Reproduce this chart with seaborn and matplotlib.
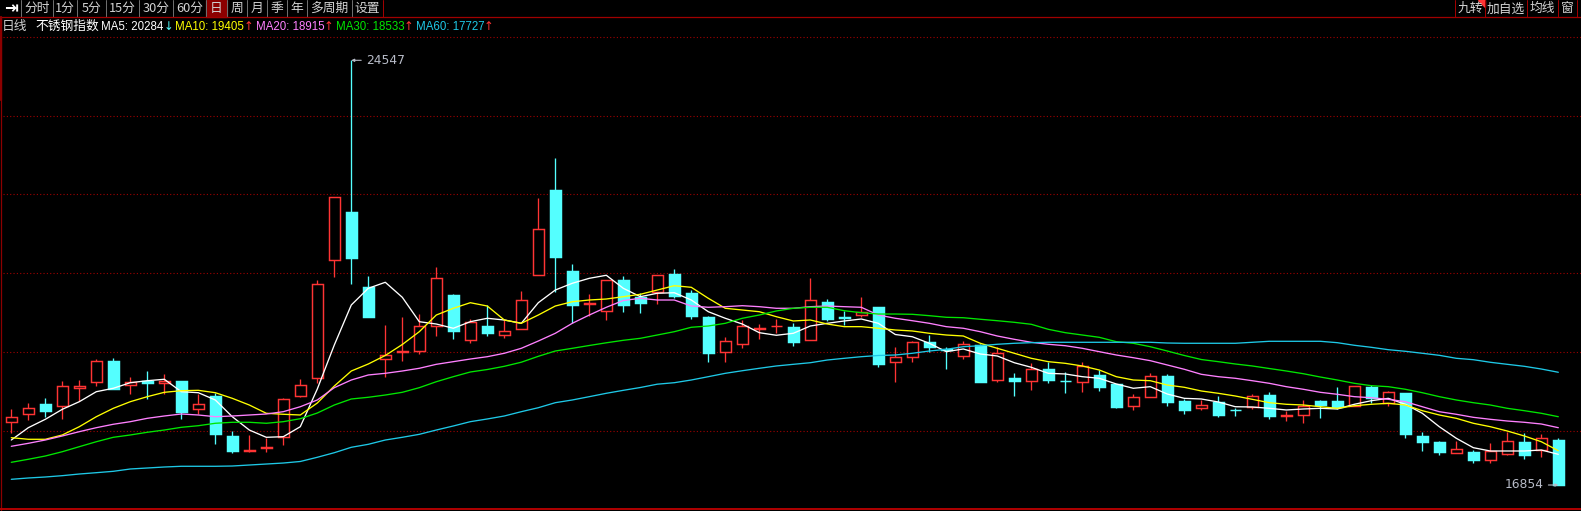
import matplotlib
matplotlib.use("Agg")
import numpy as np
import pandas as pd
import matplotlib.pyplot as plt
from matplotlib.patches import Rectangle, Polygon
import seaborn as sns

# daily candles of the stainless steel index
opens = [17990, 18135, 18321, 18290, 18617, 18725, 19100, 18671, 18743, 18707,
         18738, 18236, 18466, 17742, 17475, 17530, 17718, 18472, 18798, 20924,
         21799, 20441, 19142, 19269, 19276, 19740, 20296, 19486, 19734, 19566,
         19674, 20653, 22198, 20730, 20138, 20011, 20567, 20259, 20355, 20676,
         20332, 19897, 19258, 19403, 19685, 19729, 19711, 19475, 20169, 19897,
         19928, 20078, 19077, 19178, 19439, 19312, 19196, 19385, 18751, 18792,
         18732, 18950, 18738, 18714, 18841, 18684, 18290, 18443, 18823, 18370,
         18243, 18358, 18213, 18272, 18490, 18109, 18117, 18376, 18376, 18280,
         18629, 18339, 18520, 17742, 17633, 17439, 17452, 17312, 17421, 17633,
         17488, 17664]
highs = [18231, 18339, 18430, 18738, 18756, 19136, 19154, 18810, 18919, 18865,
         18738, 18497, 18515, 17827, 17754, 17700, 18424, 18769, 20567, 22065,
         24547, 20640, 19752, 19897, 19951, 20803, 20308, 19856, 20115, 19843,
         20368, 22053, 22777, 20857, 20314, 20562, 20640, 20327, 20658, 20767,
         20381, 19921, 19535, 19848, 19770, 19861, 19794, 20604, 20218, 20006,
         20259, 20078, 19354, 19457, 19571, 19354, 19457, 19403, 19354, 18877,
         19058, 19088, 18896, 19077, 18937, 18689, 18497, 18877, 18859, 18412,
         18388, 18466, 18254, 18508, 18539, 18200, 18394, 18394, 18635, 18642,
         18660, 18557, 18520, 17820, 17651, 17651, 17488, 17609, 17814, 17790,
         17772, 17700]
lows = [17790, 18031, 18091, 18055, 18376, 18653, 18598, 18508, 18417, 18497,
        18044, 18140, 17602, 17428, 17457, 17457, 17579, 18448, 18696, 20627,
        20500, 19903, 18816, 19106, 19221, 19558, 19504, 19432, 19558, 19522,
        19674, 20653, 20355, 19783, 19921, 19848, 19988, 19975, 20138, 20247,
        19861, 19088, 19088, 19341, 19504, 19613, 19377, 19475, 19825, 19752,
        19897, 18997, 18725, 19088, 19269, 18961, 19142, 18725, 18725, 18472,
        18580, 18707, 18526, 18544, 18551, 18254, 18218, 18443, 18290, 18146,
        18218, 18091, 18109, 18231, 18055, 18013, 17977, 18073, 18225, 18280,
        18345, 18290, 17711, 17475, 17403, 17439, 17258, 17258, 17397, 17330,
        17356, 16854]
closes = [18080, 18243, 18200, 18642, 18642, 19095, 18598, 18725, 18707, 18738,
          18182, 18321, 17783, 17475, 17488, 17537, 18406, 18660, 20490, 22065,
          20971, 19903, 19203, 19281, 19729, 20598, 19649, 19807, 19613, 19638,
          20200, 21486, 20989, 20120, 20151, 20562, 20120, 20156, 20658, 20283,
          19921, 19251, 19462, 19729, 19698, 19734, 19450, 20200, 19866, 19884,
          19982, 19051, 19167, 19439, 19359, 19294, 19403, 18725, 19245, 18743,
          18950, 18761, 18732, 19004, 18635, 18272, 18443, 18834, 18363, 18218,
          18298, 18127, 18207, 18466, 18109, 18117, 18290, 18309, 18267, 18642,
          18430, 18533, 17783, 17638, 17457, 17501, 17307, 17470, 17651, 17397,
          17700, 16854]

# moving average curves as drawn on screen (they include history before the first candle)
ma5 = [17669, 17892, 18044, 18225, 18363, 18544, 18606, 18707, 18743, 18769,
       18544, 18526, 18394, 18091, 17850, 17718, 17729, 17910, 18593, 19390,
       20115, 20417, 20526, 20254, 19812, 19770, 19693, 19812, 19874, 19843,
       19783, 20156, 20386, 20508, 20598, 20653, 20417, 20265, 20327, 20337,
       20205, 19993, 19874, 19770, 19613, 19566, 19602, 19734, 19783, 19825,
       19861, 19783, 19580, 19540, 19421, 19269, 19318, 19227, 19191, 19069,
       18986, 18877, 18865, 18816, 18787, 18684, 18606, 18635, 18502, 18424,
       18412, 18358, 18272, 18267, 18243, 18213, 18231, 18243, 18231, 18316,
       18381, 18424, 18316, 18153, 17910, 17700, 17530, 17470, 17470, 17470,
       17488, 17410]
ma10 = [17711, 17682, 17682, 17760, 17910, 18091, 18243, 18363, 18454, 18533,
        18562, 18569, 18526, 18424, 18303, 18153, 18135, 18122, 18339, 18647,
        18919, 19046, 19200, 19399, 19631, 19933, 20055, 20156, 20096, 19843,
        19783, 19933, 20096, 20174, 20205, 20223, 20265, 20308, 20386, 20464,
        20435, 20236, 20055, 20024, 19993, 19903, 19825, 19843, 19770, 19722,
        19722, 19693, 19662, 19644, 19602, 19571, 19553, 19421, 19330, 19240,
        19149, 19088, 19058, 19010, 18937, 18816, 18756, 18743, 18665, 18624,
        18557, 18515, 18466, 18406, 18345, 18316, 18303, 18272, 18243, 18290,
        18316, 18334, 18303, 18200, 18122, 18062, 17972, 17910, 17832, 17742,
        17638, 17475]
ma20 = [17555, 17609, 17669, 17742, 17820, 17892, 17954, 18001, 18062, 18104,
        18140, 18122, 18091, 18104, 18122, 18140, 18182, 18272, 18394, 18617,
        18756, 18847, 18877, 18919, 18968, 19040, 19088, 19136, 19178, 19240,
        19330, 19462, 19602, 19783, 19933, 20073, 20196, 20236, 20205, 20205,
        20096, 20073, 20084, 20102, 20084, 20055, 20055, 20084, 20096, 20084,
        20073, 19933, 19874, 19830, 19783, 19722, 19693, 19631, 19553, 19493,
        19439, 19403, 19377, 19330, 19269, 19209, 19160, 19106, 19028, 18950,
        18859, 18816, 18787, 18743, 18696, 18635, 18588, 18533, 18497, 18454,
        18435, 18406, 18363, 18272, 18182, 18135, 18080, 18044, 18013, 17990,
        17959, 17892]
ma30 = [17265, 17320, 17379, 17457, 17548, 17638, 17718, 17760, 17809, 17850,
        17899, 17928, 17972, 17990, 17990, 17972, 18001, 18055, 18158, 18303,
        18412, 18443, 18484, 18533, 18617, 18725, 18816, 18901, 18946, 19004,
        19078, 19185, 19281, 19330, 19381, 19430, 19475, 19511, 19571, 19631,
        19711, 19734, 19783, 19874, 19933, 20006, 20055, 20073, 20073, 20011,
        19975, 19951, 19951, 19946, 19921, 19892, 19884, 19856, 19830, 19801,
        19765, 19674, 19613, 19571, 19529, 19450, 19421, 19359, 19281, 19200,
        19127, 19088, 19046, 19010, 18964, 18919, 18870, 18810, 18756, 18696,
        18653, 18635, 18588, 18526, 18454, 18394, 18345, 18303, 18243, 18200,
        18153, 18091]
ma60 = [16957, 16981, 16999, 17023, 17053, 17077, 17102, 17144, 17162, 17180,
        17193, 17193, 17193, 17198, 17216, 17234, 17252, 17280, 17356, 17439,
        17537, 17591, 17669, 17718, 17772, 17850, 17923, 18001, 18050, 18104,
        18182, 18254, 18345, 18394, 18454, 18515, 18569, 18620, 18680, 18707,
        18756, 18816, 18877, 18924, 18968, 19010, 19040, 19069, 19118, 19149,
        19178, 19200, 19209, 19240, 19281, 19312, 19359, 19377, 19403, 19421,
        19432, 19439, 19439, 19439, 19439, 19439, 19439, 19439, 19426, 19421,
        19421, 19421, 19421, 19439, 19457, 19457, 19457, 19457, 19432, 19385,
        19348, 19305, 19276, 19240, 19203, 19149, 19124, 19077, 19040, 19004,
        18955, 18896]

# dotted guide levels of the price pane
grid_levels = [24964, 23547, 22120, 20694, 19258, 17832]

# header texts
period_tabs = ["分时", "1分", "5分", "15分", "30分", "60分", "日", "周", "月", "季", "年", "多周期", "设置"]
active_tab = "日"
right_tabs = ["九转", "加自选", "均线", "窗"]
chart_kind = "日线"
index_name = "不锈钢指数"
ma_names = ["MA5", "MA10", "MA20", "MA30", "MA60"]
ma_readout = [20284, 19405, 18915, 18533, 17727]
ma_trend = ["↓", "↑", "↑", "↑", "↑"]

# colours
UP = "#FF3434"
DOWN = "#54FFFF"
GRID = "#A00000"
FRAME = "#A00000"
ma_colors = {"MA5": "#FFFFFF", "MA10": "#FFFF00", "MA20": "#FF80FF",
             "MA30": "#00E600", "MA60": "#1EC8E6"}

# layout in screen pixels
W, H = 1581, 511
X0, STEP = 11.3, 17.0          # pixel of first candle, pixels per candle
PY_MAX, PX_PRICE = 60.3, 18.114  # pixel row of the highest high, price units per pixel
tab_edges = [20.7, 52.7, 77.3, 106, 139.3, 172.7, 206, 226.7, 247.3, 266.7, 286.7, 306.7, 351.7, 383.3]
right_edges = [1455, 1485, 1527, 1558, 1577]

sns.set_theme(style="dark", rc={"axes.facecolor": "black", "figure.facecolor": "black",
                                "axes.grid": False, "savefig.facecolor": "black"})
plt.rcParams["font.family"] = ["Noto Sans CJK SC", "DejaVu Sans"]

fig = plt.figure(figsize=(W / 100, H / 100), dpi=100)
ax = fig.add_axes([0, 0, 1, 1])
ax.set_facecolor("black")

o, h, l, c = (np.array(v, dtype=float) for v in (opens, highs, lows, closes))
x = np.arange(len(o))
up = c >= o
lo_b = np.minimum(o, c)
hi_b = np.maximum(o, c)
top_price = h.max()


def price_at(py):
    return top_price - (py - PY_MAX) * PX_PRICE


# dotted horizontal guides
gx0 = (3 - X0) / STEP
gx1 = (W - X0) / STEP
for g in grid_levels:
    ax.plot([gx0, gx1], [g, g], color=GRID, lw=0.8, dashes=(1, 2), zorder=1)

# wicks: rising candles are hollow, so their wicks stop at the body
ax.vlines(x[up], l[up], lo_b[up], color=UP, lw=0.95, zorder=2)
ax.vlines(x[up], hi_b[up], h[up], color=UP, lw=0.95, zorder=2)
ax.vlines(x[~up], l[~up], h[~up], color=DOWN, lw=0.95, zorder=2)

# bodies
ax.bar(x[up], (hi_b - lo_b)[up], bottom=lo_b[up], width=0.68,
       facecolor="black", edgecolor=UP, linewidth=1.05, zorder=3)
ax.bar(x[~up], (hi_b - lo_b)[~up], bottom=lo_b[~up], width=0.68,
       facecolor=DOWN, edgecolor=DOWN, linewidth=1.05, zorder=3)

# moving averages
ma_df = pd.DataFrame({"idx": x, "MA5": ma5, "MA10": ma10, "MA20": ma20, "MA30": ma30, "MA60": ma60})
ma_df = ma_df.melt(id_vars="idx", var_name="ma", value_name="price")
sns.lineplot(data=ma_df, x="idx", y="price", hue="ma", hue_order=ma_names,
             palette=ma_colors, estimator=None, legend=False, linewidth=0.95, ax=ax, zorder=4)

# highest / lowest markers
imax = int(np.argmax(h))
imin = int(np.argmin(l))
mark_col = "#B8BCC8"
ax.annotate(f"{h[imax]:.0f}", xy=(imax, h[imax]), xytext=(10.5, 0), textcoords="offset points",
            color=mark_col, fontsize=8.8, ha="left", va="center", family="DejaVu Sans",
            arrowprops=dict(arrowstyle="-|>", color=mark_col, lw=0.8, shrinkA=1, shrinkB=0,
                            mutation_scale=4), zorder=5)
ax.annotate(f"{l[imin]:.0f}", xy=(imin, l[imin]), xytext=(-10.5, 0), textcoords="offset points",
            color=mark_col, fontsize=8.8, ha="right", va="center", family="DejaVu Sans",
            arrowprops=dict(arrowstyle="-|>", color=mark_col, lw=0.8, shrinkA=1, shrinkB=0,
                            mutation_scale=4), zorder=5)

ax.set_xlim(-X0 / STEP, (W - X0) / STEP)
ax.set_ylim(price_at(H), price_at(0))
ax.set_xticks([])
ax.set_yticks([])
ax.set_xlabel("")
ax.set_ylabel("")
for s in ax.spines.values():
    s.set_visible(False)

# overlay in pixel units for the toolbar, legend row and frame
ov = fig.add_axes([0, 0, 1, 1])
ov.set_xlim(0, W)
ov.set_ylim(H, 0)
ov.set_axis_off()

TXT = "#D2D2D2"
ov.text(10.5, 8.5, "⇥", family="DejaVu Sans", fontsize=12, fontweight="bold",
        color="white", ha="center", va="center")
for k, tab in enumerate(period_tabs):
    xl, xr = tab_edges[k], tab_edges[k + 1]
    if tab == active_tab:
        ov.add_patch(Rectangle((xl, 0), xr - xl, 17, color="#8C0000", zorder=1))
    ov.text((xl + xr) / 2, 8.8, tab, color=TXT, fontsize=9.2, ha="center", va="center", zorder=2)
for e in tab_edges[:-1]:
    ov.plot([e, e], [0, 17], color="#6E6E6E", lw=0.72)
ov.plot([tab_edges[-1]] * 2, [0, 17], color=FRAME, lw=0.72)

for k, tab in enumerate(right_tabs):
    xl, xr = right_edges[k], right_edges[k + 1]
    ov.text((xl + xr) / 2, 8.8, tab, color=TXT, fontsize=9.2, ha="center", va="center")
for e in right_edges:
    ov.plot([e, e], [0, 17], color=FRAME, lw=0.72)
ov.add_patch(Polygon([(1478, 0.5), (1484.5, 0.5), (1484.5, 7)], closed=True, color=UP))

# frame lines
ov.plot([0, W], [17.5, 17.5], color=FRAME, lw=0.9)
ov.plot([1, 1], [17, H], color="#8C0000", lw=0.9)
ov.plot([1, 1], [17, 100], color="#8C0000", lw=1.6)
ov.plot([0, W], [509.5, 509.5], color="#B00000", lw=1.4)

# legend row, laid out left to right
renderer = fig.canvas.get_renderer()


def put(px, s, color, size=8.6, family=None, ha="left"):
    kw = {"family": family} if family else {}
    t = ov.text(px, 26.5, s, color=color, fontsize=size, ha=ha, va="center", **kw)
    return t.get_window_extent(renderer).x1


cur = put(2, chart_kind, TXT, size=9.2)
cur = put(cur + 8, index_name, "white", size=9.2)
for name, val, arrow in zip(ma_names, ma_readout, ma_trend):
    cur = put(cur + 2, f"{name}: {val}", ma_colors[name], size=8.3, family="Liberation Sans")
    put(cur + 4.5, arrow, DOWN if arrow == "↓" else UP, size=8.3, family="DejaVu Sans", ha="center")
    cur += 9.5

fig.savefig("out.png", dpi=100, facecolor="black")
